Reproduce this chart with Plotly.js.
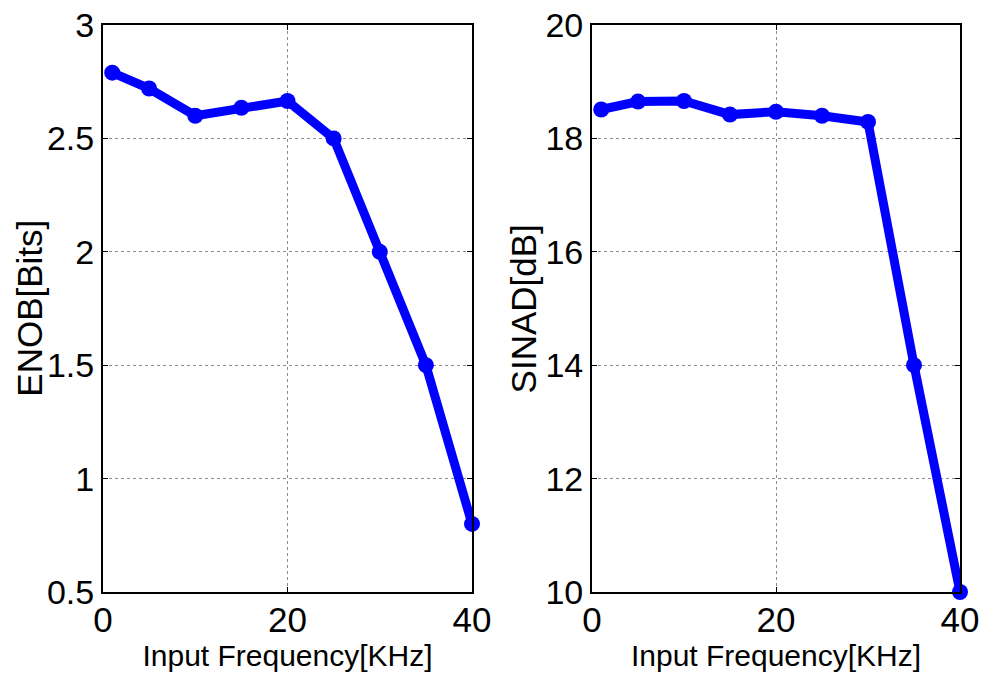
<!DOCTYPE html>
<html>
<head>
<meta charset="utf-8">
<script src="https://cdn.plot.ly/plotly-3.0.1.min.js"></script>
<style>html,body{margin:0;padding:0;background:#fff;}#chart{width:983px;height:683px;}</style>
</head>
<body>
<div id="chart"></div>
<script>
const freqKHz = [1, 5, 10, 15, 20, 25, 30, 35, 40];
const enobBits = [2.79, 2.72, 2.60, 2.635, 2.665, 2.50, 2.00, 1.50, 0.80];
const sinadDb = [18.51, 18.65, 18.66, 18.42, 18.47, 18.40, 18.29, 14.0, 10.0];
const xTitle = 'Input Frequency[KHz]';
const yTitleLeft = 'ENOB[Bits]';
const yTitleRight = 'SINAD[dB]';

const lineStyle = {color: '#0000ff', width: 9};
const markerStyle = {color: '#0000ff', size: 16};

const traces = [
  {x: freqKHz, y: enobBits, type: 'scatter', mode: 'lines+markers', line: lineStyle, marker: markerStyle, xaxis: 'x', yaxis: 'y', showlegend: false, cliponaxis: false},
  {x: freqKHz, y: sinadDb, type: 'scatter', mode: 'lines+markers', line: lineStyle, marker: markerStyle, xaxis: 'x2', yaxis: 'y2', showlegend: false, cliponaxis: false}
];

const font = 'Arial, "Liberation Sans", sans-serif';
function xAxis(domain, anchor) {
  return {
    domain: domain, anchor: anchor, range: [0, 40], tick0: 0, dtick: 20,
    showline: true, linecolor: '#000', linewidth: 2, mirror: 'ticks',
    ticks: 'inside', ticklen: 5, tickcolor: '#000', tickwidth: 1,
    showgrid: true, gridcolor: '#8c8c8c', gridwidth: 1, griddash: 'dot',
    zeroline: false, tickfont: {family: font, size: 35, color: '#000'},
    ticklabelstandoff: -4,
    title: {text: xTitle, font: {family: font, size: 30, color: '#000'}, standoff: 4}
  };
}
function yAxis(range, dtick, anchor) {
  return {
    domain: [0, 1], anchor: anchor, range: range, tick0: range[0], dtick: dtick,
    showline: true, linecolor: '#000', linewidth: 2, mirror: 'ticks',
    ticks: 'inside', ticklen: 5, tickcolor: '#000', tickwidth: 1,
    showgrid: true, gridcolor: '#8c8c8c', gridwidth: 1, griddash: 'dot',
    zeroline: false, tickfont: {family: font, size: 34, color: '#000'}
  };
}

function yTitleAnn(text, xref, yref, xpos) {
  return {text: text, xref: xref, yref: yref, x: xpos, y: 0.5, textangle: -90,
    showarrow: false, xanchor: 'center', yanchor: 'middle',
    font: {family: font, size: 35, color: '#000'}};
}

const layout = {
  width: 983, height: 683,
  margin: {l: 103, r: 23, t: 25, b: 91},
  paper_bgcolor: '#fff', plot_bgcolor: '#fff',
  xaxis: xAxis([0, 0.4306], 'y'),
  yaxis: yAxis([0.5, 3], 0.5, 'x'),
  xaxis2: xAxis([0.5706, 1], 'y2'),
  yaxis2: yAxis([10, 20], 2, 'x2'),
  annotations: [
    yTitleAnn(yTitleLeft, 'x domain', 'y domain', -0.2),
    yTitleAnn(yTitleRight, 'x2 domain', 'y2 domain', -0.185)
  ],
  showlegend: false
};

Plotly.newPlot('chart', traces, layout, {displayModeBar: false, staticPlot: true});
</script>
</body>
</html>
